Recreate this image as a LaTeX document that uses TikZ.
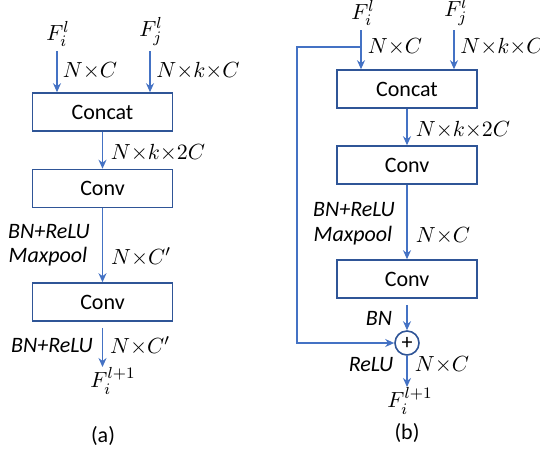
\documentclass[tikz,border=0pt]{standalone}
\usepackage{amsmath}
\usepackage{fontspec}
\setmainfont{Carlito}
\usepackage{xcolor}
\usepackage{tikz}
\usetikzlibrary{arrows.meta, positioning}
\definecolor{lineblue}{HTML}{4472C4}
\definecolor{boxblue}{HTML}{2F5597}

\begin{document}
\begin{tikzpicture}[x=0.5pt, y=-0.5pt, font=\fontsize{11}{13}\selectfont,
        block/.style={draw=boxblue, line width=0.8pt, minimum width=70pt, minimum height=19pt, inner sep=0pt},
        flow/.style={draw=lineblue, line width=0.8pt, -{Stealth[length=4.5pt, width=4pt]}},
        lbl/.style={inner sep=0pt}]
        \useasboundingbox (0,0) rectangle (540,452);
        % (a)
        \node[lbl, anchor=south] (fiA) at (58,47) {$F_i^l$};
        \node[lbl, anchor=south] (fjA) at (151,46) {$F_j^l$};
        \node[block] (concatA) at (102.5,112) {Concat};
        \node[block] (conv1A) at (102.5,188.5) {Conv};
        \node[block] (conv2A) at (102.5,302) {Conv};
        \node[lbl, anchor=north west] (outA) at (90,367) {$F_i^{l+1}$};
        \node[lbl] (capA) at (103,436) {(a)};
        \coordinate (inA1) at (57,51);
        \coordinate (inA2) at (150,51);
        \draw[flow] (inA1) -- (inA1 |- concatA.north);
        \draw[flow] (inA2) -- (inA2 |- concatA.north);
        \draw[flow] (conv1A.north |- concatA.south) -- (conv1A.north);
        \draw[flow] (conv1A.south) -- (conv2A.north);
        \draw[flow, shorten <=3pt] (conv2A.south) -- (conv2A.south |- outA.north);
        \node[lbl] (dimA1) at (90,71) {$N{\times}C$};
        \node[lbl] (dimA2) at (198,71) {$N{\times}k{\times}C$};
        \node[lbl] (dimA3) at (158,153) {$N{\times}k{\times}2C$};
        \node[lbl] (opA1) at (49,232) {\itshape BN+ReLU};
        \node[lbl] (opA2) at (48,257) {\itshape Maxpool};
        \node[lbl] (dimA4) at (141,257) {$N{\times}C'$};
        \node[lbl] (opA3) at (52,346) {\itshape BN+ReLU};
        \node[lbl] (dimA5) at (140,346) {$N{\times}C'$};
        % (b)
        \node[lbl, anchor=south] (fiB) at (363,26) {$F_i^l$};
        \node[lbl, anchor=south] (fjB) at (456,26) {$F_j^l$};
        \node[block] (concatB) at (407,89) {Concat};
        \node[block] (conv1B) at (407,165) {Conv};
        \node[block] (conv2B) at (407,279) {Conv};
        \node[draw=boxblue, line width=0.8pt, circle, minimum size=12pt, inner sep=0pt] (plusB) at (407,343) {+};
        \node[lbl, anchor=north west] (outB) at (387,387) {$F_i^{l+1}$};
        \node[lbl] (capB) at (407,433) {(b)};
        \coordinate (inB1) at (361,30);
        \coordinate (inB2) at (454,30);
        \coordinate (splitB) at (361,47);
        \coordinate (cornerB) at (297,47);
        \draw[flow] (inB1) -- (inB1 |- concatB.north);
        \draw[flow] (inB2) -- (inB2 |- concatB.north);
        \draw[flow] (splitB) -- (cornerB) |- (plusB.west); % skip connection
        \draw[flow] (concatB.south) -- (conv1B.north);
        \draw[flow] (conv1B.south) -- (conv2B.north);
        \draw[flow, shorten <=3pt] (conv2B.south) -- (plusB.north);
        \draw[flow] (plusB.south) -- (plusB.south |- outB.north);
        \node[lbl] (dimB1) at (395,47) {$N{\times}C$};
        \node[lbl] (dimB2) at (502,47) {$N{\times}k{\times}C$};
        \node[lbl] (dimB3) at (463,130) {$N{\times}k{\times}2C$};
        \node[lbl] (opB1) at (354,210) {\itshape BN+ReLU};
        \node[lbl] (opB2) at (353,236) {\itshape Maxpool};
        \node[lbl] (dimB4) at (443,236) {$N{\times}C$};
        \node[lbl] (opB3) at (379,318) {\itshape BN};
        \node[lbl] (opB4) at (371,365) {\itshape ReLU};
        \node[lbl] (dimB5) at (442,365) {$N{\times}C$};
    \end{tikzpicture}
\end{document}
